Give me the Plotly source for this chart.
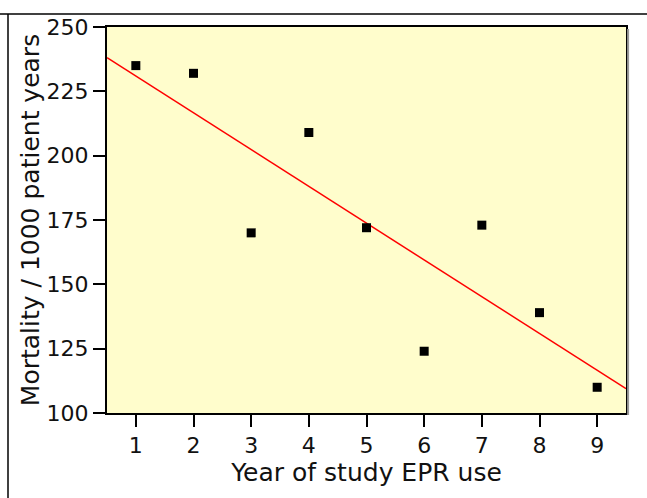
import numpy as np
import plotly.graph_objects as go

years = [1, 2, 3, 4, 5, 6, 7, 8, 9]
mortality = [235, 232, 170, 209, 172, 124, 173, 139, 110]
x_range = [0.5, 9.5]
y_range = [100, 250]
x_title = "Year of study EPR use"
y_title = "Mortality / 1000 patient years"

slope, intercept = np.polyfit(years, mortality, 1)
fit_x = np.array(x_range)
fit_y = slope * fit_x + intercept

font = "DejaVu Sans"
fig = go.Figure()
fig.add_trace(go.Scatter(x=fit_x, y=fit_y, mode="lines",
                         line=dict(color="#ff0000", width=1.5), hoverinfo="skip"))
fig.add_trace(go.Scatter(x=years, y=mortality, mode="markers",
                         marker=dict(symbol="square", size=9, color="black")))

axis_common = dict(showgrid=False, zeroline=False, showline=True, linecolor="black",
                   linewidth=2, mirror=True, ticks="outside", ticklen=12, tickwidth=2,
                   tickcolor="black", tickfont=dict(family=font, size=22, color="#111111"))
fig.update_xaxes(range=x_range, dtick=1, tick0=1,
                 title=dict(text=x_title, font=dict(family=font, size=25, color="#111111"), standoff=0),
                 **axis_common)
fig.update_yaxes(range=y_range, dtick=25, tick0=100,
                 title=dict(text=y_title, font=dict(family=font, size=25, color="#111111"), standoff=0),
                 **axis_common)

fig.update_layout(
    width=647, height=498, showlegend=False,
    margin=dict(l=107, r=21, t=27, b=85),
    paper_bgcolor="white", plot_bgcolor="#fffdcc",
    shapes=[
        dict(type="line", xref="paper", yref="paper", x0=1.004, x1=1.004, y0=-0.005, y1=0.995,
             line=dict(color="#999999", width=2)),
        dict(type="line", xref="paper", yref="paper", x0=-107/519, x1=(647-107)/519,
             y0=1 + 13/386, y1=1 + 13/386, line=dict(color="black", width=1.5)),
        dict(type="line", xref="paper", yref="paper", x0=-99/519, x1=-99/519,
             y0=-85/386, y1=1 + 13/386, line=dict(color="black", width=1.5)),
    ],
)
fig.write_html("out.html")
